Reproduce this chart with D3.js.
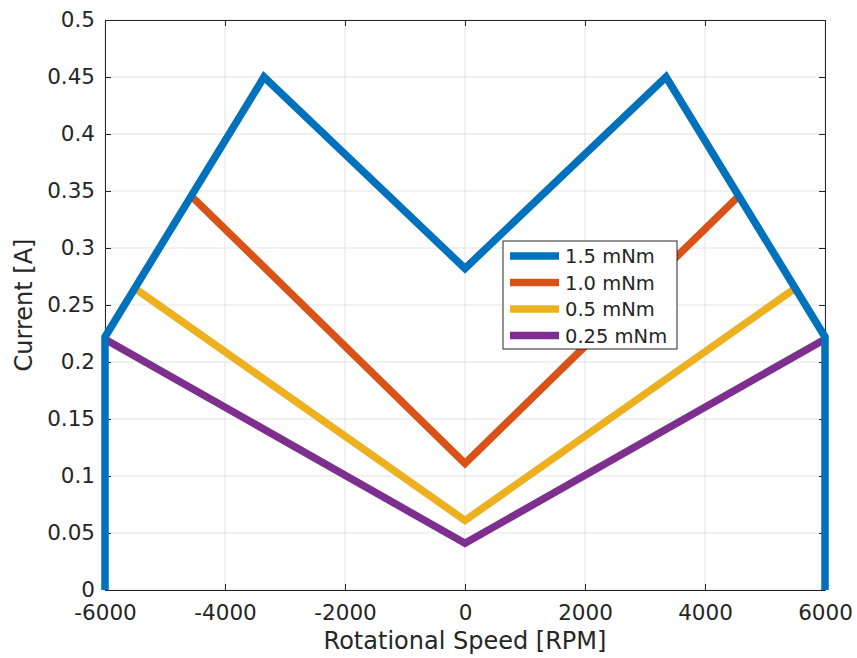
<!DOCTYPE html>
<html>
<head>
<meta charset="utf-8">
<script src="https://cdn.jsdelivr.net/npm/d3@7"></script>
<style>
  body { margin: 0; background: #fff; }
  text { font-family: "DejaVu Sans", sans-serif; }
</style>
</head>
<body>
<svg></svg>
<script>
const seriesNames = ['1.5 mNm', '1.0 mNm', '0.5 mNm', '0.25 mNm']
const seriesColors = ['#0072BD', '#D95319', '#EDB120', '#7E2F8E']
const speed15 = [-6000, -6000, -3350, 0, 3350, 6000, 6000]
const current15 = [0, 0.222, 0.45, 0.282, 0.45, 0.222, 0]
const speed10 = [-4570, 0, 4570]
const current10 = [0.346, 0.111, 0.346]
const speed05 = [-5460, 0, 5460]
const current05 = [0.263, 0.061, 0.263]
const speed025 = [-6000, 0, 6000]
const current025 = [0.22, 0.041, 0.22]
const xTicks = [-6000, -4000, -2000, 0, 2000, 4000, 6000]
const yTicks = [0, 0.05, 0.1, 0.15, 0.2, 0.25, 0.3, 0.35, 0.4, 0.45, 0.5]

const width = 857
const height = 658
const paddingLeft = 105
const paddingRight = 32
const paddingTop = 20
const paddingBottom = 68
const graphWidth = width - paddingLeft - paddingRight
const graphHeight = height - paddingTop - paddingBottom

const svg = d3.select('svg')
              .attr('width', width)
              .attr('height', height)

const xScale = d3.scaleLinear().domain([-6000, 6000]).range([0, graphWidth])
const yScale = d3.scaleLinear().domain([0, 0.5]).range([graphHeight, 0])

const g = svg.append('g').attr('transform', `translate(${paddingLeft}, ${paddingTop})`)

// grid
g.append('g').selectAll('line').data(xTicks).join('line')
 .attr('x1', d => xScale(d)).attr('x2', d => xScale(d))
 .attr('y1', 0).attr('y2', graphHeight)
 .attr('stroke', '#e3e3e3').attr('stroke-width', 1)
g.append('g').selectAll('line').data(yTicks).join('line')
 .attr('y1', d => yScale(d)).attr('y2', d => yScale(d))
 .attr('x1', 0).attr('x2', graphWidth)
 .attr('stroke', '#e3e3e3').attr('stroke-width', 1)

// axes (ticks inward, box on)
const axisColor = '#262626'
const styleAxis = sel => {
  sel.select('.domain').attr('stroke', axisColor)
  sel.selectAll('.tick line').attr('stroke', axisColor)
  sel.selectAll('.tick text').attr('fill', axisColor).style('font-size', '21.5px')
}
g.append('g').attr('transform', `translate(0, ${graphHeight})`)
 .call(d3.axisBottom(xScale).tickValues(xTicks).tickSizeInner(-6).tickSizeOuter(0).tickPadding(15).tickFormat(d => String(d)))
 .call(styleAxis)
g.append('g')
 .call(d3.axisTop(xScale).tickValues(xTicks).tickSizeInner(-6).tickSizeOuter(0).tickFormat(''))
 .call(styleAxis)
g.append('g')
 .call(d3.axisLeft(yScale).tickValues(yTicks).tickSizeInner(-6).tickSizeOuter(0).tickPadding(10).tickFormat(d => String(+d.toFixed(2))))
 .call(styleAxis)
g.append('g').attr('transform', `translate(${graphWidth}, 0)`)
 .call(d3.axisRight(yScale).tickValues(yTicks).tickSizeInner(-6).tickSizeOuter(0).tickFormat(''))
 .call(styleAxis)

// lines
const series = [
  { xs: speed15, ys: current15 },
  { xs: speed10, ys: current10 },
  { xs: speed05, ys: current05 },
  { xs: speed025, ys: current025 }
]
const line = d3.line().x(d => xScale(d[0])).y(d => yScale(d[1]))
series.slice().reverse().forEach((s, i) => {
  const idx = series.length - 1 - i
  g.append('path')
   .attr('d', line(s.xs.map((x, j) => [x, s.ys[j]])))
   .attr('fill', 'none')
   .attr('stroke', seriesColors[idx])
   .attr('stroke-width', 7.5)
   .attr('stroke-linejoin', 'miter')
})

// axis labels
svg.append('text')
   .text('Rotational Speed [RPM]')
   .attr('x', paddingLeft + graphWidth / 2)
   .attr('y', 649)
   .attr('text-anchor', 'middle')
   .style('font-size', '24px')
   .attr('fill', axisColor)
svg.append('text')
   .text('Current [A]')
   .attr('transform', `translate(32, ${paddingTop + graphHeight / 2})rotate(-90)`)
   .attr('text-anchor', 'middle')
   .style('font-size', '24px')
   .attr('fill', axisColor)

// legend
const legend = svg.append('g').attr('transform', 'translate(503, 241)')
legend.append('rect')
      .attr('width', 174).attr('height', 108)
      .attr('fill', '#fff').attr('stroke', axisColor).attr('stroke-width', 1)
seriesNames.forEach((name, i) => {
  const y = 15 + i * 26.5
  legend.append('line')
        .attr('x1', 7).attr('x2', 56).attr('y1', y).attr('y2', y)
        .attr('stroke', seriesColors[i]).attr('stroke-width', 7.5)
  legend.append('text')
        .text(name)
        .attr('x', 62).attr('y', y + 7)
        .style('font-size', '19.5px')
        .attr('fill', axisColor)
})
</script>
</body>
</html>
